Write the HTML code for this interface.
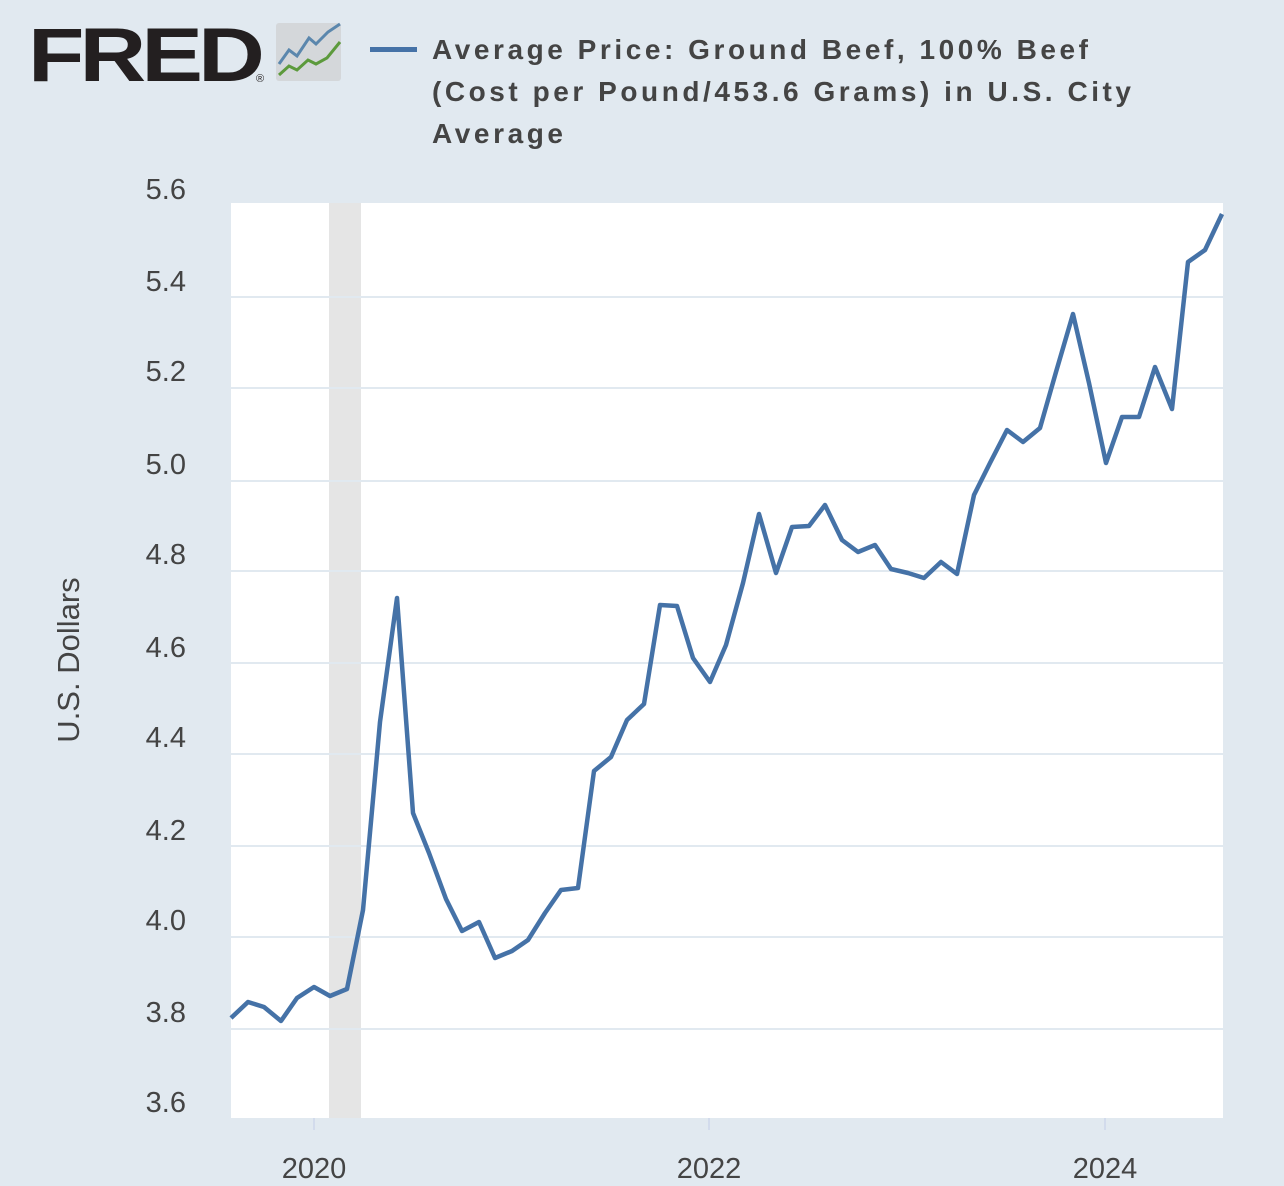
<!DOCTYPE html>
<html><head><meta charset="utf-8"><style>
html,body{margin:0;padding:0;background:#e1e9f0;}
svg{display:block}
</style></head><body>
<svg width="1284" height="1186" viewBox="0 0 1284 1186" xmlns="http://www.w3.org/2000/svg">
<rect width="1284" height="1186" fill="#e1e9f0"/>
<text x="28" y="81" font-family="Liberation Sans, sans-serif" font-weight="900" font-size="76" fill="#231f20" letter-spacing="-4" textLength="232" lengthAdjust="spacingAndGlyphs">FRED</text>
<text x="256" y="82" font-family="Liberation Sans, sans-serif" font-size="11" fill="#231f20">®</text>
<rect x="276" y="23" width="65" height="58" rx="3" fill="#d4d7da"/>
<polyline points="279,64 289,50 297,56 309,38 316,44 328,32 340,24" fill="none" stroke="#5b87ad" stroke-width="3"/>
<polyline points="279,75 289,66 297,70 308,60 316,64 327,58 340,42" fill="none" stroke="#5c9a3c" stroke-width="3"/>
<rect x="370" y="47" width="47" height="5" fill="#4572a7"/>
<g font-family="Liberation Sans, DejaVu Sans, sans-serif" font-weight="bold" font-size="28" fill="#444">
<text x="432" y="59" textLength="656" lengthAdjust="spacing">Average Price: Ground Beef, 100% Beef</text>
<text x="432" y="101" textLength="699" lengthAdjust="spacing">(Cost per Pound/453.6 Grams) in U.S. City</text>
<text x="432" y="143" textLength="131" lengthAdjust="spacing">Average</text>
</g>
<rect x="231" y="203" width="992" height="915" fill="#fff"/>
<rect x="329" y="203" width="32" height="915" fill="#e5e5e5"/>
<g stroke="#e1e9f0" stroke-width="2">
<line x1="231" x2="1223" y1="297" y2="297"/><line x1="231" x2="1223" y1="388" y2="388"/>
<line x1="231" x2="1223" y1="481" y2="481"/><line x1="231" x2="1223" y1="571" y2="571"/>
<line x1="231" x2="1223" y1="663" y2="663"/><line x1="231" x2="1223" y1="754" y2="754"/>
<line x1="231" x2="1223" y1="846" y2="846"/><line x1="231" x2="1223" y1="937" y2="937"/>
<line x1="231" x2="1223" y1="1029" y2="1029"/>
</g>
<g stroke="#ccd6eb" stroke-width="1.5">
<line x1="314" x2="314" y1="1118" y2="1130"/><line x1="709" x2="709" y1="1118" y2="1130"/><line x1="1105" x2="1105" y1="1118" y2="1130"/>
</g>
<g font-family="Liberation Sans, sans-serif" font-size="29" fill="#444" text-anchor="end">
<text x="186" y="199">5.6</text><text x="186" y="291">5.4</text><text x="186" y="381">5.2</text>
<text x="186" y="474">5.0</text><text x="186" y="564">4.8</text><text x="186" y="657">4.6</text>
<text x="186" y="747">4.4</text><text x="186" y="840">4.2</text><text x="186" y="930">4.0</text>
<text x="186" y="1022">3.8</text><text x="186" y="1112">3.6</text>
</g>
<g font-family="Liberation Sans, sans-serif" font-size="29" fill="#444" text-anchor="middle">
<text x="314" y="1178">2020</text><text x="709" y="1178">2022</text><text x="1105" y="1178">2024</text>
</g>
<text transform="translate(79,660) rotate(-90)" font-family="Liberation Sans, sans-serif" font-size="31" fill="#444" text-anchor="middle">U.S. Dollars</text>
<polyline fill="none" stroke="#4572a7" stroke-width="4.5" stroke-linejoin="round" points="231,1018 248,1002 264,1007 281,1021 297,998 314,987 330,996 347,989 363,910 380,722 397,598 413,813 429,853 446,899 462,931 479,922 495,958 512,951 528,940 545,913 561,890 578,888 594,771 611,757 627,720 644,704 660,605 677,606 693,658 710,682 726,645 743,583 759,514 776,573 792,527 809,526 825,505 842,540 858,552 875,545 891,569 908,573 924,578 941,562 957,574 974,495 990,463 1007,430 1023,442 1040,428 1056,372 1073,314 1089,383 1106,463 1122,417 1139,417 1155,367 1172,409 1188,262 1205,250 1222,214"/>
</svg>
</body></html>
